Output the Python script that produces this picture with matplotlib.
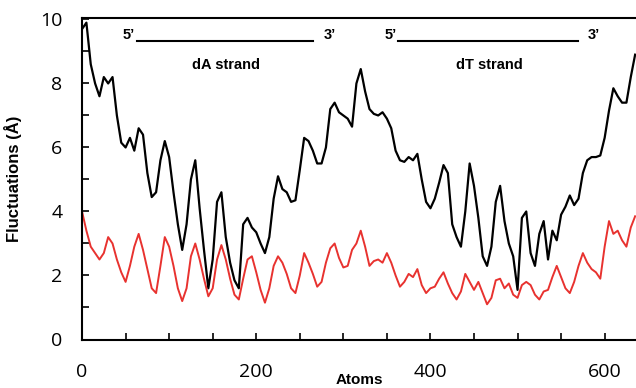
import numpy as np
from matplotlib import pyplot as plt
from matplotlib.ticker import MultipleLocator

# atom index, sampled every 5 atoms
atoms = list(range(0, 640, 5))

# black trace
fluct_black = [9.7, 9.9, 8.6, 8.0, 7.6, 8.2, 8.0, 8.2, 7.0, 6.15,
               6.0, 6.3, 5.9, 6.6, 6.4, 5.2, 4.45, 4.6, 5.6, 6.2,
               5.7, 4.6, 3.6, 2.8, 3.6, 5.0, 5.6, 4.1, 2.8, 1.6,
               2.5, 4.3, 4.6, 3.2, 2.4, 1.85, 1.6, 3.6, 3.8, 3.5,
               3.35, 3.0, 2.7, 3.2, 4.4, 5.1, 4.7, 4.6, 4.3, 4.35,
               5.3, 6.3, 6.2, 5.9, 5.5, 5.5, 6.0, 7.2, 7.4, 7.1,
               7.0, 6.9, 6.65, 8.0, 8.45, 7.75, 7.2, 7.05, 7.0, 7.1,
               6.9, 6.6, 5.9, 5.6, 5.55, 5.7, 5.6, 5.8, 5.0, 4.3,
               4.1, 4.4, 4.9, 5.45, 5.2, 3.6, 3.2, 2.9, 4.0, 5.5,
               4.8, 3.8, 2.6, 2.3, 2.9, 4.3, 4.8, 3.7, 3.0, 2.6,
               1.55, 3.8, 4.0, 2.7, 2.3, 3.3, 3.7, 2.5, 3.4, 3.1,
               3.9, 4.15, 4.5, 4.2, 4.4, 5.2, 5.6, 5.7, 5.7, 5.75,
               6.3, 7.15, 7.85, 7.6, 7.4, 7.4, 8.2, 8.9]

# red trace
fluct_red = [4.0, 3.4, 2.9, 2.7, 2.5, 2.7, 3.2, 3.0, 2.5, 2.1,
             1.8, 2.3, 2.9, 3.3, 2.8, 2.2, 1.6, 1.45, 2.3, 3.2,
             2.9, 2.3, 1.6, 1.2, 1.6, 2.6, 3.0, 2.5, 1.9, 1.35,
             1.6, 2.5, 2.95, 2.5, 1.9, 1.4, 1.25, 1.9, 2.5, 2.6,
             2.1, 1.55, 1.15, 1.6, 2.3, 2.6, 2.4, 2.05, 1.6, 1.45,
             2.0, 2.7, 2.4, 2.05, 1.65, 1.8, 2.4, 2.85, 3.0, 2.55,
             2.25, 2.3, 2.8, 3.0, 3.4, 2.9, 2.3, 2.45, 2.5, 2.4,
             2.7, 2.4, 2.0, 1.65, 1.8, 2.05, 1.95, 2.2, 1.7, 1.45,
             1.6, 1.65, 1.9, 2.1, 1.75, 1.45, 1.25, 1.5, 2.05, 1.8,
             1.55, 1.8, 1.45, 1.1, 1.3, 1.85, 1.9, 1.6, 1.75, 1.4,
             1.3, 1.7, 1.8, 1.7, 1.4, 1.25, 1.5, 1.55, 1.95, 2.3,
             1.95, 1.6, 1.45, 1.8, 2.3, 2.7, 2.4, 2.2, 2.1, 1.9,
             2.9, 3.7, 3.3, 3.4, 3.1, 2.9, 3.5, 3.85]

x_ticks = [0, 200, 400, 600]
y_ticks = [0, 2, 4, 6, 8, 10]

# strand markers: (label, 5' end, 3' end, label centre)
strands = [("dA strand", 63, 265, 165), ("dT strand", 363, 569, 468)]

fig = plt.figure(figsize=(6.36, 3.88), dpi=100)
ax = fig.add_axes([0.129, 0.125, 0.871, 0.829])

ax.plot(atoms, fluct_black, color='black', lw=1.6)
ax.plot(atoms, fluct_red, color='#e8322f', lw=1.4)

ax.set_xlim(0, 636)
ax.set_ylim(0, 10.05)
ax.set_xticks(x_ticks)
ax.set_yticks(y_ticks)
ax.xaxis.set_minor_locator(MultipleLocator(50))
ax.yaxis.set_minor_locator(MultipleLocator(1))
ax.tick_params(which='both', direction='in', length=5, width=1.2)
ax.tick_params(axis='x', which='major', pad=17)
ax.tick_params(axis='y', which='major', pad=14)
for lab in ax.get_xticklabels() + ax.get_yticklabels():
    lab.set_fontfamily('Open Sans')
    lab.set_fontsize(14)

ax.spines['right'].set_visible(False)
for s in ['left', 'top', 'bottom']:
    ax.spines[s].set_linewidth(1.5)

ax.set_xlabel('Atoms', fontsize=11, fontweight='bold', family='Liberation Sans')
ax.xaxis.set_label_coords(0.5, -0.105)
ax.set_ylabel('Fluctuations (Å)', fontsize=12, fontweight='bold', family='Liberation Sans')
ax.yaxis.set_label_coords(-0.108, 0.5)

#strand annotations
for name, x5, x3, xc in strands:
    ax.plot([x5, x3], [9.33, 9.33], color='black', lw=1.5)
    ax.text(x5 - 2, 9.5, '5’', ha='right', va='center', fontsize=10.5,
            fontweight='bold', family='Liberation Sans')
    ax.text(x3 + 12, 9.5, '3’', ha='left', va='center', fontsize=10.5,
            fontweight='bold', family='Liberation Sans')
    ax.text(xc, 8.58, name, ha='center', va='center', fontsize=10.5,
            fontweight='bold', family='Liberation Sans')

fig.savefig('out.png', dpi=100)
